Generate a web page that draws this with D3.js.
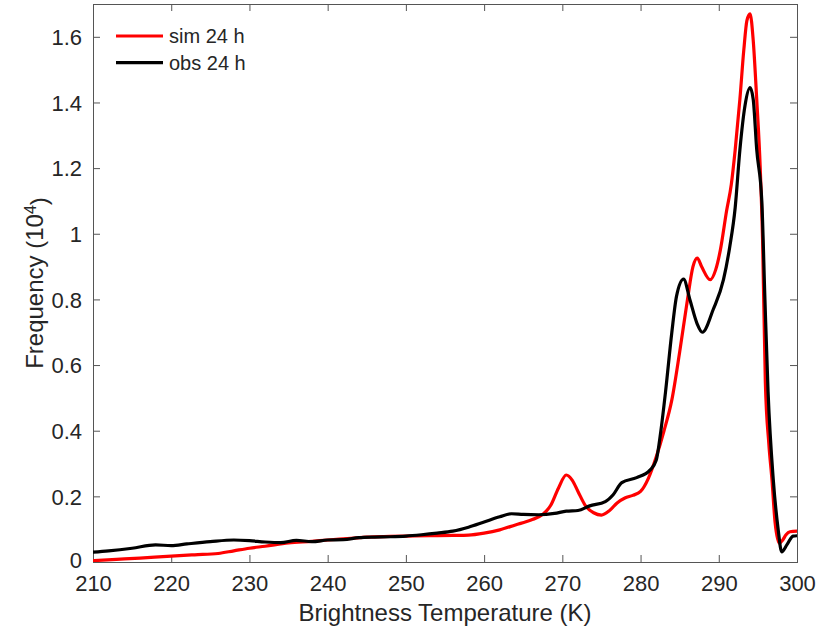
<!DOCTYPE html>
<html>
<head>
<meta charset="utf-8">
<script src="https://cdn.jsdelivr.net/npm/d3@7/dist/d3.min.js"></script>
<style>
  html, body { margin: 0; padding: 0; background: #fff; }
  svg { display: block; font-family: "Liberation Sans", Arial, Helvetica, sans-serif; }
</style>
</head>
<body>
<svg id="chart" width="832" height="626"></svg>
<script>
// ---- data ----
const simT = [210, 213, 216, 220, 223, 226, 228, 230, 232, 235, 238, 240, 243, 245, 248, 250, 253, 256, 258, 260, 262, 264, 266, 267.5, 268.5, 269.5, 270.5, 271.3, 272, 273, 274, 275, 276, 277, 278, 279, 280, 281, 282, 283, 284, 285, 286, 286.7, 287.25, 287.8, 288.9, 289.6, 290.2, 291.0, 291.6, 292.1, 292.7, 293.2, 293.6, 294.0, 294.4, 294.85, 295.3, 295.6, 295.95, 296.4, 296.8, 297.2, 297.75, 298.2, 298.6, 299.1, 300];
const simV = [0.004, 0.008, 0.012, 0.018, 0.022, 0.026, 0.034, 0.042, 0.048, 0.058, 0.063, 0.067, 0.072, 0.076, 0.078, 0.079, 0.080, 0.081, 0.082, 0.088, 0.098, 0.113, 0.128, 0.145, 0.172, 0.225, 0.265, 0.248, 0.215, 0.17, 0.15, 0.143, 0.156, 0.18, 0.195, 0.203, 0.215, 0.255, 0.32, 0.40, 0.494, 0.64, 0.80, 0.90, 0.926, 0.90, 0.86, 0.89, 0.95, 1.07, 1.15, 1.256, 1.41, 1.56, 1.65, 1.67, 1.59, 1.41, 1.20, 0.98, 0.55, 0.36, 0.25, 0.12, 0.057, 0.068, 0.083, 0.092, 0.094];

const obsT = [210, 212, 215, 218, 220, 222, 225, 228, 230, 232, 234, 236, 238, 240, 242, 244, 246, 248, 250, 252, 254, 256, 258, 260, 262, 263.5, 265, 267, 269, 270.5, 272, 273.5, 275.5, 276.5, 277.6, 279.5, 281.2, 282.0, 282.6, 283.2, 284.0, 284.6, 285.5, 286.3, 287.2, 287.9, 289.3, 290.6, 291.4, 292.1, 292.7, 293.35, 294.0, 294.4, 294.85, 295.5, 295.9, 296.3, 296.97, 297.6, 298.04, 298.7, 299.5, 300];
const obsV = [0.030, 0.034, 0.042, 0.052, 0.050, 0.055, 0.062, 0.067, 0.065, 0.061, 0.059, 0.066, 0.062, 0.067, 0.068, 0.074, 0.076, 0.077, 0.079, 0.083, 0.088, 0.094, 0.106, 0.122, 0.138, 0.147, 0.145, 0.144, 0.148, 0.155, 0.157, 0.171, 0.184, 0.205, 0.242, 0.257, 0.28, 0.31, 0.40, 0.52, 0.70, 0.81, 0.862, 0.80, 0.728, 0.70, 0.77, 0.86, 0.96, 1.08, 1.256, 1.39, 1.445, 1.41, 1.256, 1.10, 0.80, 0.52, 0.25, 0.098, 0.031, 0.052, 0.079, 0.08];

const xTicks = [210, 220, 230, 240, 250, 260, 270, 280, 290, 300];
const yTicks = [0, 0.2, 0.4, 0.6, 0.8, 1, 1.2, 1.4, 1.6];
const yTickLabels = ["0", "0.2", "0.4", "0.6", "0.8", "1", "1.2", "1.4", "1.6"];
const seriesNames = ["sim 24 h", "obs 24 h"];
const seriesColors = ["#ff0000", "#000000"];

// ---- layout ----
const W = 832, H = 626;
const m = {left: 93, right: 35, top: 4, bottom: 64};
const svg = d3.select("#chart");
const x = d3.scaleLinear().domain([210, 300]).range([m.left, W - m.right]);
const y = d3.scaleLinear().domain([0, 1.7]).range([H - m.bottom, m.top]);
const axisColor = "#262626";
const tickLen = 7;

svg.append("defs").append("clipPath").attr("id", "clip")
  .append("rect").attr("x", m.left).attr("y", m.top)
  .attr("width", x(300) - x(210)).attr("height", y(0) - y(1.7));

// axes with inward ticks
const xb = svg.append("g").attr("transform", `translate(0,${y(0)})`)
  .call(d3.axisBottom(x).tickValues(xTicks).tickSizeInner(-tickLen).tickSizeOuter(0).tickPadding(13).tickFormat(d3.format("d")));
const xt = svg.append("g").attr("transform", `translate(0,${y(1.7)})`)
  .call(d3.axisTop(x).tickValues(xTicks).tickSizeInner(-tickLen).tickSizeOuter(0).tickFormat(""));
const yl = svg.append("g").attr("transform", `translate(${x(210)},0)`)
  .call(d3.axisLeft(y).tickValues(yTicks).tickSizeInner(-tickLen).tickSizeOuter(0).tickPadding(11)
    .tickFormat((d, i) => yTickLabels[i]));
const yr = svg.append("g").attr("transform", `translate(${x(300)},0)`)
  .call(d3.axisRight(y).tickValues(yTicks).tickSizeInner(-tickLen).tickSizeOuter(0).tickFormat(""));

[xb, xt, yl, yr].forEach(g => {
  g.select(".domain").remove();
  g.selectAll(".tick line").attr("stroke", "#555").attr("stroke-width", 1);
  g.selectAll(".tick text").attr("fill", axisColor).style("font-size", "22px")
    .style("font-family", "'Liberation Sans', Arial, Helvetica, sans-serif");
});
// hide ticks at the box corners
xb.selectAll(".tick").filter(d => d === 210 || d === 300).select("line").remove();
xt.selectAll(".tick").filter(d => d === 210 || d === 300).remove();
yl.selectAll(".tick").filter(d => d === 0).select("line").remove();
yr.selectAll(".tick").filter(d => d === 0).remove();
xb.selectAll(".tick text").attr("dy", "0.71em");
yl.selectAll(".tick text").attr("dy", "0.35em");
yl.selectAll(".tick").filter(d => d === 0).select("text").attr("dy", "0.25em");

// box
svg.append("rect").attr("x", x(210) + 0.5).attr("y", y(1.7) + 0.5)
  .attr("width", x(300) - x(210)).attr("height", y(0) - y(1.7))
  .attr("fill", "none").attr("stroke", "#555").attr("stroke-width", 1);

// lines
const line = d3.line().x(d => x(d[0])).y(d => y(d[1])).curve(d3.curveMonotoneX);
const series = [d3.zip(simT, simV), d3.zip(obsT, obsV)];
svg.append("g").attr("clip-path", "url(#clip)")
  .selectAll("path").data(series).join("path")
  .attr("d", line).attr("fill", "none")
  .attr("stroke", (d, i) => seriesColors[i])
  .attr("stroke-width", 3.2).attr("stroke-linejoin", "round").attr("stroke-linecap", "round");

// legend
const lg = svg.append("g");
seriesNames.forEach((name, i) => {
  const ly = 36 + i * 26.7;
  lg.append("line").attr("x1", 116).attr("x2", 163).attr("y1", ly).attr("y2", ly)
    .attr("stroke", seriesColors[i]).attr("stroke-width", 3.2);
  lg.append("text").attr("x", 169).attr("y", ly).attr("dy", "0.35em")
    .attr("fill", axisColor).style("font-size", "20px").text(name);
});

// axis labels
svg.append("text").attr("x", (x(210) + x(300)) / 2).attr("y", 621)
  .attr("text-anchor", "middle").attr("fill", axisColor).style("font-size", "24px")
  .text("Brightness Temperature (K)");
const ylab = svg.append("text")
  .attr("transform", `translate(43,${(y(0) + y(1.7)) / 2}) rotate(-90)`)
  .attr("text-anchor", "middle").attr("fill", axisColor).style("font-size", "24px");
ylab.append("tspan").text("Frequency (10");
ylab.append("tspan").attr("dy", "-0.45em").style("font-size", "16px").text("4");
ylab.append("tspan").attr("dy", "0.45em").text(")");
</script>
</body>
</html>
